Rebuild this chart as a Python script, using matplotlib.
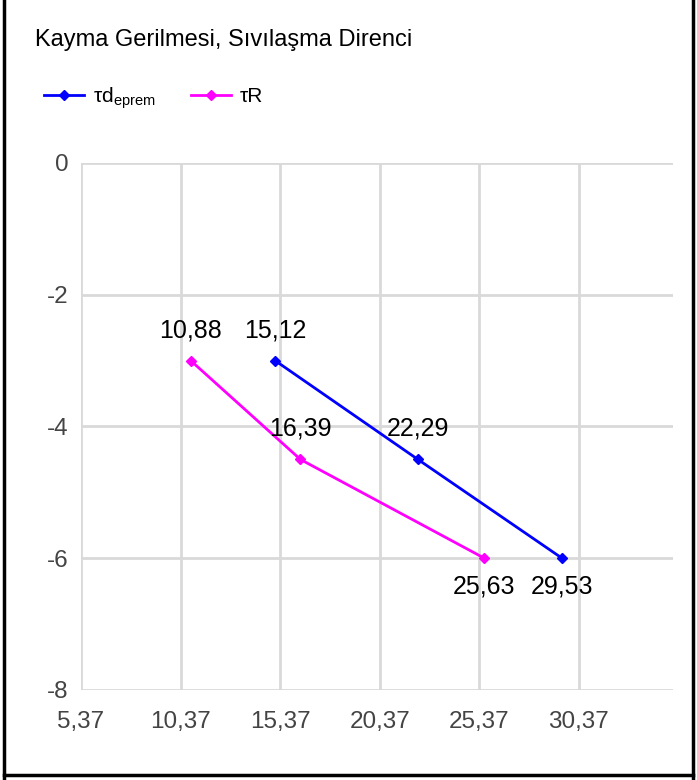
import matplotlib
matplotlib.use("Agg")
import matplotlib.pyplot as plt
from matplotlib.lines import Line2D

plt.rcParams['font.family'] = ['Liberation Sans', 'DejaVu Sans']
plt.rcParams['mathtext.default'] = 'regular'

# data
depth = [-3, -4.5, -6]
tau_deprem = [15.12, 22.29, 29.53]
tau_r = [10.88, 16.39, 25.63]
label_deprem = 'τd$_{eprem}$'
label_r = 'τR'
x_ticks = [5.37, 10.37, 15.37, 20.37, 25.37, 30.37]
y_ticks = [0, -2, -4, -6, -8]
title = "Kayma Gerilmesi, Sıvılaşma Direnci"

fig = plt.figure(figsize=(6.97, 7.8), dpi=100)
ax = fig.add_axes([81 / 697, 90 / 780, 592 / 697, 527 / 780])

ax.plot(tau_deprem, depth, color='#0000ff', lw=2, marker='D', ms=5, label=label_deprem, zorder=3)
ax.plot(tau_r, depth, color='#ff00ff', lw=2, marker='D', ms=5, label=label_r, zorder=3)

# value labels: above for the first two points, below for the last
for series in (tau_deprem, tau_r):
    for i, (x, y) in enumerate(zip(series, depth)):
        dy = 22 if i < 2 else -20
        ax.annotate(f"{x:.2f}".replace('.', ','), (x, y), xytext=(0, dy),
                    textcoords='offset points', ha='center', va='center',
                    fontsize=18, color='black')

ax.set_xlim(5.37, 35.1)
ax.set_ylim(-8, 0)
ax.set_xticks(x_ticks)
ax.set_xticklabels([f"{t:.2f}".replace('.', ',') for t in x_ticks])
ax.set_yticks(y_ticks)
ax.set_yticklabels([str(t) for t in y_ticks])
ax.tick_params(length=0, labelsize=17.5, labelcolor='#444444')
ax.tick_params(axis='x', pad=15)
ax.tick_params(axis='y', pad=9)
ax.grid(True, color='#d9d9d9', lw=2)
for s in ax.spines.values():
    s.set_visible(False)

fig.text(35 / 697, 1 - 40 / 780, title, fontsize=17, ha='left', va='center')

fig.legend(loc='center left', bbox_to_anchor=(44 / 697, 1 - 98 / 780), ncol=2,
           frameon=False, fontsize=15, handlelength=1.9, columnspacing=1.7,
           handletextpad=0.45, borderpad=0, borderaxespad=0)

# outer frame
for xs, ys in [([4 / 697, 4 / 697], [0, 1]), ([693 / 697, 693 / 697], [0, 1]),
               ([4 / 697, 693 / 697], [5 / 780, 5 / 780])]:
    fig.add_artist(Line2D(xs, ys, color='black', lw=2.5, transform=fig.transFigure))

fig.savefig("out.png", dpi=100)
